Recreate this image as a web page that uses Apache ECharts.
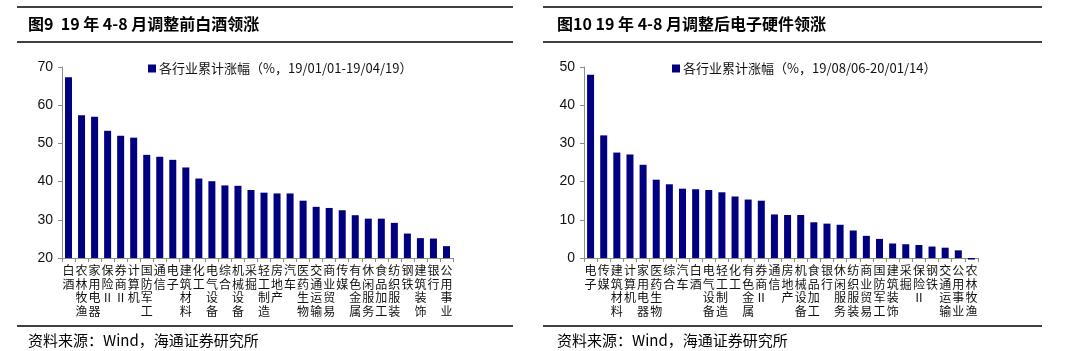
<!DOCTYPE html>
<html>
<head>
<meta charset="utf-8">
<script src="https://cdn.jsdelivr.net/npm/echarts@6/dist/echarts.min.js"></script>
<style>
html,body{margin:0;padding:0;background:#fff;}
#c{width:1070px;height:351px;}
</style>
</head>
<body>
<div id="c"></div>
<script>
// ---- Data ----
const leftTitle = '图9  19 年 4-8 月调整前白酒领涨';
const rightTitle = '图10 19 年 4-8 月调整后电子硬件领涨';
const sourceText = '资料来源：Wind，海通证券研究所';
const leftLegend = '各行业累计涨幅（%，19/01/01-19/04/19）';
const rightLegend = '各行业累计涨幅（%，19/08/06-20/01/14）';

const leftCategories = ['白酒','农林牧渔','家用电器','保险Ⅱ','券商Ⅱ','计算机','国防军工','通信','电子','建筑材料','化工','电气设备','综合','机械设备','采掘','轻工制造','房地产','汽车','医药生物','交通运输','商业贸易','传媒','有色金属','休闲服务','食品加工','纺织服装','钢铁','建筑装饰','银行','公用事业'];
const leftValues = [67.3,57.4,57.0,53.3,52.0,51.5,47.0,46.5,45.7,43.7,40.8,40.1,39.0,38.9,37.8,37.1,36.9,36.9,35.0,33.4,33.1,32.5,31.2,30.3,30.3,29.2,26.4,25.2,25.1,23.1];
const leftTicks = {min:20, max:70, interval:10};

const rightCategories = ['电子','传媒','建筑材料','计算机','家用电器','医药生物','综合','汽车','白酒','电气设备','轻工制造','化工','有色金属','券商Ⅱ','通信','房地产','机械设备','食品加工','银行','休闲服务','纺织服装','商业贸易','国防军工','建筑装饰','采掘','保险Ⅱ','钢铁','交通运输','公用事业','农林牧渔'];
const rightValues = [48.0,32.1,27.6,27.1,24.4,20.5,19.3,18.15,18.0,17.8,17.2,16.1,15.3,15.0,11.4,11.25,11.25,9.35,9.0,8.7,7.2,5.8,5.0,3.8,3.6,3.4,3.0,2.7,2.0,-0.4];
const rightTicks = {min:0, max:50, interval:10};

// ---- Styles ----
const NAVY = '#000080';
const AXIS = '#8c8c8c';
const CJK = '"Noto Sans CJK SC", sans-serif';
const NUM = '"Liberation Sans", Arial, sans-serif';

function vert(v){ return v.split('').join('\n'); }

function xAxisCfg(gi, cats){
  return {
    type:'category', gridIndex:gi, data:cats,
    axisLine:{show:true, onZero:false, lineStyle:{color:AXIS, width:1}},
    axisTick:{show:true, length:4, alignWithLabel:false, lineStyle:{color:AXIS}},
    axisLabel:{interval:0, formatter:vert, color:'#111', fontFamily:CJK, fontSize:12, lineHeight:13.5, margin:6, verticalAlign:'top'},
    splitLine:{show:false}
  };
}
function yAxisCfg(gi, t){
  return {
    type:'value', gridIndex:gi, min:t.min, max:t.max, interval:t.interval,
    axisLine:{show:true, lineStyle:{color:AXIS, width:1}},
    axisTick:{show:true, length:4, lineStyle:{color:AXIS}},
    axisLabel:{color:'#111', fontFamily:NUM, fontSize:14, margin:9},
    splitLine:{show:false}
  };
}

const chart = echarts.init(document.getElementById('c'), null, {renderer:'canvas'});
chart.setOption({
  animation:false,
  backgroundColor:'#fff',
  grid:[
    {left:62, top:67, width:391, height:191},
    {left:584, top:67, width:394, height:191}
  ],
  xAxis:[xAxisCfg(0,leftCategories), xAxisCfg(1,rightCategories)],
  yAxis:[yAxisCfg(0,leftTicks), yAxisCfg(1,rightTicks)],
  legend:[
    {data:[leftLegend], left:148, top:62, itemWidth:8, itemHeight:8, itemGap:0, padding:0,
     textStyle:{fontFamily:CJK, fontSize:13, color:'#111', padding:[0,0,0,-2]}, icon:'rect'},
    {data:[rightLegend], left:672, top:62, itemWidth:8, itemHeight:8, itemGap:0, padding:0,
     textStyle:{fontFamily:CJK, fontSize:13, color:'#111', padding:[0,0,0,-2]}, icon:'rect'}
  ],
  series:[
    {name:leftLegend, type:'bar', xAxisIndex:0, yAxisIndex:0, data:leftValues, barWidth:7, itemStyle:{color:NAVY}, clip:true},
    {name:rightLegend, type:'bar', xAxisIndex:1, yAxisIndex:1, data:rightValues, barWidth:7, itemStyle:{color:NAVY}, clip:false}
  ],
  graphic:[
    {type:'line', shape:{x1:17,y1:7,x2:513,y2:7}, style:{stroke:'#000', lineWidth:1.5}},
    {type:'line', shape:{x1:17,y1:42,x2:513,y2:42}, style:{stroke:'#000', lineWidth:1.5}},
    {type:'line', shape:{x1:17,y1:326,x2:513,y2:326}, style:{stroke:'#000', lineWidth:1.5}},
    {type:'line', shape:{x1:543,y1:7,x2:1042,y2:7}, style:{stroke:'#000', lineWidth:1.5}},
    {type:'line', shape:{x1:543,y1:42,x2:1042,y2:42}, style:{stroke:'#000', lineWidth:1.5}},
    {type:'line', shape:{x1:543,y1:326,x2:1042,y2:326}, style:{stroke:'#000', lineWidth:1.5}},
    {type:'text', left:28, top:16, style:{text:leftTitle, font:'bold 16px '+CJK, fill:'#000'}},
    {type:'text', left:557, top:16, style:{text:rightTitle, font:'bold 16px '+CJK, fill:'#000'}},
    {type:'text', left:28, top:333, style:{text:sourceText, font:'15px '+CJK, fill:'#000'}},
    {type:'text', left:557, top:333, style:{text:sourceText, font:'15px '+CJK, fill:'#000'}}
  ]
});
</script>
</body>
</html>
